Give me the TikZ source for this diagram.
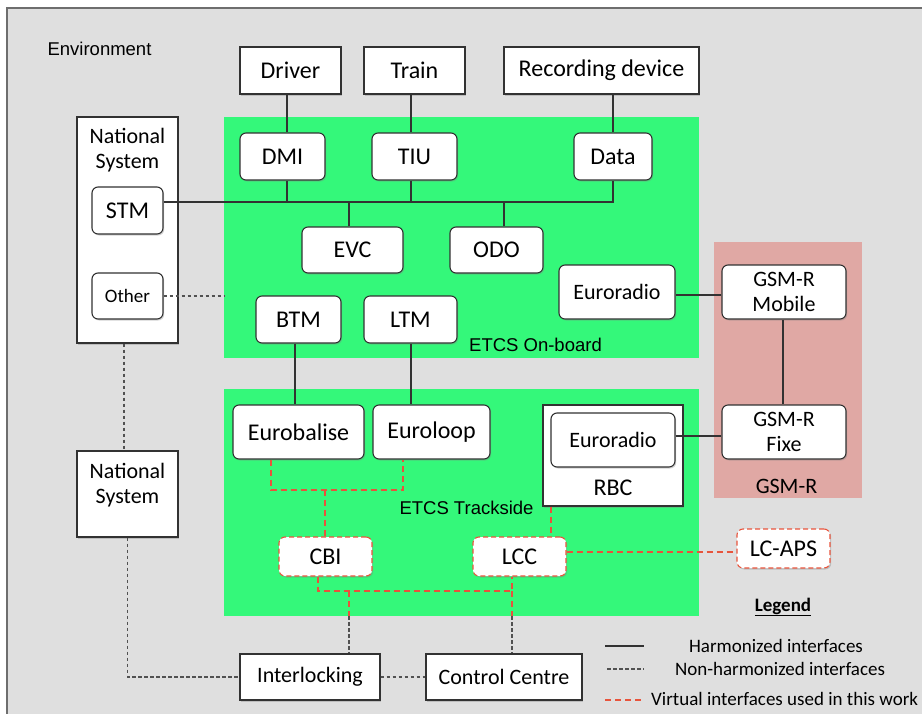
\documentclass[tikz,border=0pt]{standalone}
\usepackage{fontspec}
\setmainfont{Carlito}
\newfontfamily\helv{Liberation Sans}
\usetikzlibrary{shadows}
\definecolor{bggray}{RGB}{223,223,223}
\definecolor{etcsgreen}{RGB}{52,248,122}
\definecolor{gsmpink}{RGB}{224,168,164}
\definecolor{vred}{RGB}{232,84,60}
\definecolor{lineg}{RGB}{50,50,50}
\definecolor{frameg}{RGB}{110,110,110}
\begin{document}
\begin{tikzpicture}[x=1pt,y=-1pt,
  fs24/.style={font=\fontsize{24}{27}\selectfont},
  fs22/.style={font=\fontsize{22}{25.5}\selectfont},
  fs19/.style={font=\fontsize{19}{22}\selectfont},
  helvlabel/.style={font=\helv\fontsize{18.5}{21}\selectfont},
  box/.style={draw=lineg, fill=white, line width=1.1pt, inner sep=0pt, align=center,
    drop shadow={shadow xshift=1.2pt, shadow yshift=-1.5pt, opacity=0.35}},
  rbox/.style={box, rounded corners=6pt},
  vbox/.style={rbox, draw=vred, dash pattern=on 5pt off 3pt},
  area/.style={inner sep=0pt, draw=none},
  harm/.style={draw=lineg, line width=1.2pt},
  nonh/.style={draw=lineg!85, line width=1.2pt, dash pattern=on 3.5pt off 2.5pt},
  virt/.style={draw=vred, line width=1.3pt, dash pattern=on 6pt off 4pt},
]
\useasboundingbox (0,0) rectangle (922,713);
\fill[white] (0,0) rectangle (922,713);
\draw[draw=frameg, line width=1.3pt, fill=bggray] (7,8) rectangle (940,730);

% areas
\node[area, fill=etcsgreen, minimum width=475pt, minimum height=241pt] (onboard) at (461.5,237.5) {};
\node[area, fill=etcsgreen, minimum width=475pt, minimum height=227pt] (track) at (461.5,502.5) {};
\node[area, fill=gsmpink, minimum width=148pt, minimum height=256pt] (gsmr) at (788,370) {};

% labels
\node[helvlabel] (envlabel) at (99.5,49) {Environment};
\node[helvlabel] (oblabel) at (535.5,345) {ETCS On-board};
\node[helvlabel] (tslabel) at (466.5,508) {ETCS Trackside};
\node[fs22] (gsmlabel) at (786.5,486) {GSM-R};

% top boxes
\node[box, fs24, minimum width=101pt, minimum height=47pt] (driver) at (290.5,70.5) {Driver};
\node[box, fs24, minimum width=101pt, minimum height=47pt] (train) at (414.5,70.5) {Train};
\node[box, fs24, minimum width=195pt, minimum height=47pt] (rec) at (601.5,70.5) {Recording device};

% national systems
\node[box, minimum width=101pt, minimum height=226pt] (ns1) at (127.5,230) {};
\node[fs22, align=center] (ns1t) at (127.5,150) {National\\System};
\node[rbox, fs24, minimum width=71pt, minimum height=47pt] (stm) at (127.5,210.5) {STM};
\node[rbox, fs19, minimum width=71pt, minimum height=46pt] (other) at (127.5,296) {Other};
\node[box, minimum width=101pt, minimum height=86pt] (ns2) at (127.5,494) {};
\node[fs22, align=center] (ns2t) at (127.5,485) {National\\System};

% on-board
\node[rbox, fs24, minimum width=85pt, minimum height=47pt] (dmi) at (282.5,156.5) {DMI};
\node[rbox, fs24, minimum width=85pt, minimum height=47pt] (tiu) at (414.5,156.5) {TIU};
\node[rbox, fs24, minimum width=78pt, minimum height=47pt] (data) at (613,156.5) {Data};
\node[rbox, fs24, minimum width=101pt, minimum height=46pt] (evc) at (352.5,250) {EVC};
\node[rbox, fs24, minimum width=93pt, minimum height=46pt] (odo) at (496.5,250) {ODO};
\node[rbox, fs22, minimum width=116pt, minimum height=54pt] (er1) at (617,292) {Euroradio};
\node[rbox, fs24, minimum width=85pt, minimum height=47pt] (btm) at (298.5,319.5) {BTM};
\node[rbox, fs24, minimum width=93pt, minimum height=47pt] (ltm) at (410.5,319.5) {LTM};

% GSM-R
\node[rbox, fs22, minimum width=124pt, minimum height=54pt] (mobile) at (784,292) {GSM-R\\Mobile};
\node[rbox, fs22, minimum width=124pt, minimum height=54pt] (fixe) at (784,432) {GSM-R\\Fixe};

% trackside
\node[rbox, fs24, minimum width=131pt, minimum height=54pt] (eurobalise) at (298.5,432) {Eurobalise};
\node[rbox, fs24, minimum width=117pt, minimum height=54pt] (euroloop) at (431.5,432) {Euroloop};
\node[box, minimum width=140pt, minimum height=101pt] (rbc) at (613,455.5) {};
\node[fs24] (rbct) at (613,488) {RBC};
\node[rbox, fs22, minimum width=124pt, minimum height=54pt] (er2) at (613,440) {Euroradio};
\node[vbox, fs24, minimum width=93pt, minimum height=39pt] (cbi) at (325.5,556.5) {CBI};
\node[vbox, fs24, minimum width=93pt, minimum height=39pt] (lcc) at (519.5,556.5) {LCC};
\node[vbox, fs24, minimum width=93pt, minimum height=39pt] (lcaps) at (783.5,548.5) {LC-APS};

% bottom
\node[box, fs22, minimum width=140pt, minimum height=46pt] (interlocking) at (310,677) {Interlocking};
\node[box, fs22, minimum width=156pt, minimum height=46pt] (control) at (504,677) {Control Centre};

% harmonized connectors
\coordinate (bus) at (0,202);
\draw[harm] ([xshift=-3.5pt]driver.south) -- ([xshift=-3.5pt]driver.south |- dmi.north);
\draw[harm] ([xshift=-3.5pt]train.south) -- ([xshift=-3.5pt]train.south |- tiu.north);
\draw[harm] (data.north) -- (data.north |- rec.south);
\draw[harm] (stm.east |- bus) -- (data.south |- bus) -- (data.south);
\draw[harm] ([xshift=4.5pt]dmi.south) -- ([xshift=4.5pt]dmi.south |- bus);
\draw[harm] ([xshift=-3.5pt]tiu.south) -- ([xshift=-3.5pt]tiu.south |- bus);
\draw[harm] ([xshift=-3.5pt]evc.north) -- ([xshift=-3.5pt]evc.north |- bus);
\draw[harm] ([xshift=7.5pt]odo.north) -- ([xshift=7.5pt]odo.north |- bus);
\draw[harm] ([xshift=-3.5pt]btm.south) -- ([xshift=-3.5pt]btm.south |- eurobalise.north);
\draw[harm] ([xshift=0.5pt]ltm.south) -- ([xshift=0.5pt]ltm.south |- euroloop.north);
\draw[harm] ([yshift=-3pt]er1.east) -- ([yshift=-3pt]er1.east -| mobile.west);
\draw[harm] ([xshift=-1pt]mobile.south) -- ([xshift=-1pt]fixe.north);
\draw[harm] ([yshift=4pt]er2.east) -- ([yshift=4pt]er2.east -| fixe.west);

% non-harmonized connectors
\draw[nonh] (other.east) -- (other.east -| onboard.west);
\draw[nonh] ([xshift=-3.5pt]ns1.south) -- ([xshift=-3.5pt]ns1.south |- ns2.north);
\draw[nonh] (ns2.south) |- (interlocking.west);
\draw[nonh] (interlocking.east) -- (control.west);

% virtual connectors
\coordinate (jA) at (325,490);
\coordinate (jB) at (349,591);
\draw[virt] ([xshift=-27.5pt]eurobalise.south) |- (jA) -| ([xshift=-28.5pt]euroloop.south);
\draw[virt] (jA) -- (jA |- cbi.north);
\draw[virt] ([xshift=-62pt]rbc.south) -- ([xshift=-62pt]rbc.south |- lcc.north);
\draw[virt] ([yshift=4.5pt]lcc.east) -- ([yshift=4.5pt]lcc.east -| lcaps.west);
\draw[virt] ([xshift=-7.5pt]cbi.south) |- (jB) -| ([xshift=-7.5pt]lcc.south);
\draw[virt] ([xshift=-7.5pt]lcc.south |- jB) -- ([xshift=-7.5pt]lcc.south |- track.south);
\draw[nonh] ([xshift=-7.5pt]lcc.south |- track.south) -- ([xshift=-7.5pt]lcc.south |- control.north);
\draw[virt] (jB) -- (jB |- track.south);
\draw[nonh] (jB |- track.south) -- (jB |- interlocking.north);

% legend
\node[font=\bfseries\fontsize{19}{22}\selectfont] (legend) at (783,607) {\underline{Legend}};
\coordinate (l1a) at (605,646); \coordinate (l1b) at (644,646);
\coordinate (l2a) at (607,669); \coordinate (l2b) at (644,669);
\coordinate (l3a) at (605,700); \coordinate (l3b) at (644,700);
\draw[harm] (l1a) -- (l1b);
\draw[nonh] (l2a) -- (l2b);
\draw[virt] (l3a) -- (l3b);
\node[fs19] (t1) at (776,646) {Harmonized interfaces};
\node[fs19] (t2) at (780,669) {Non-harmonized interfaces};
\node[fs19, anchor=west, inner sep=0pt] (t3) at (651,699) {Virtual interfaces used in this work};
\end{tikzpicture}
\end{document}
